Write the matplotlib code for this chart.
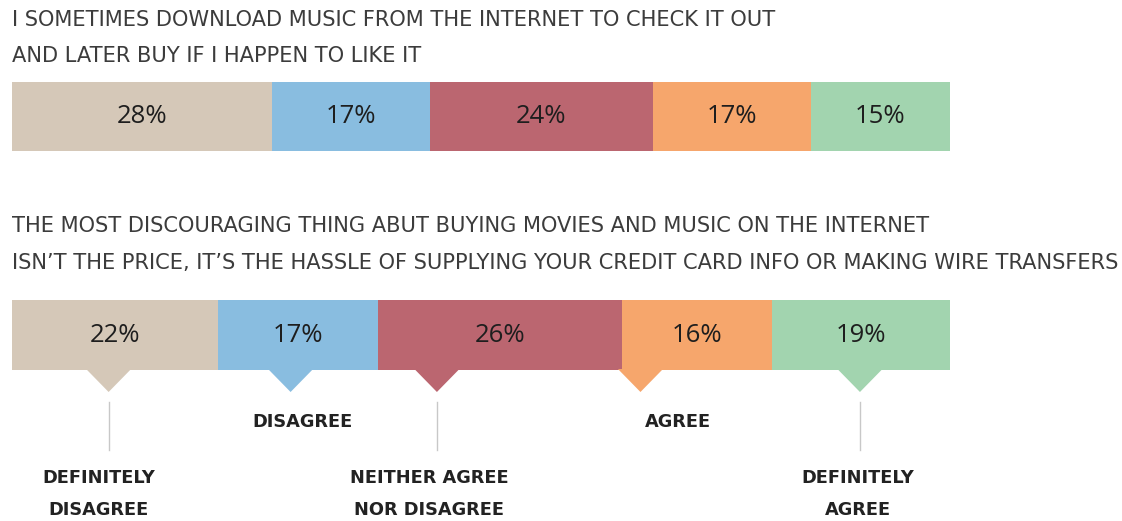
# stacked agreement bars for two survey statements

import matplotlib.pyplot as plt
import numpy as np

plt.rcParams['font.family'] = ['DejaVu Sans']

colors = ['#d5c8b8', '#89bde0', '#bb6670', '#f6a66c', '#a2d4af']
answers = ['DEFINITELY\nDISAGREE', 'DISAGREE', 'NEITHER AGREE\nNOR DISAGREE',
           'AGREE', 'DEFINITELY\nAGREE']

q1_title = ['I SOMETIMES DOWNLOAD MUSIC FROM THE INTERNET TO CHECK IT OUT',
            'AND LATER BUY IF I HAPPEN TO LIKE IT']
q1_values = [28, 17, 24, 17, 15]

q2_title = ['THE MOST DISCOURAGING THING ABUT BUYING MOVIES AND MUSIC ON THE INTERNET',
            'ISN\u2019T THE PRICE, IT\u2019S THE HASSLE OF SUPPLYING YOUR CREDIT CARD INFO OR MAKING WIRE TRANSFERS']
q2_values = [22, 17, 26, 16, 19]

# pointer and label positions along the bottom bar (percent scale)
pointer_pos = [10.3, 29.7, 45.3, 67.0, 90.4]
label_pos = [9.2, 31.0, 44.5, 71.0, 90.2]
has_stem = [True, False, True, False, True]


def stacked_bar(ax, values, y, height):
    vals = np.array(values, dtype=float)
    vals = vals / vals.sum() * 100
    left = np.concatenate([[0], np.cumsum(vals)[:-1]])
    ax.barh(y, vals, left=left, height=height, color=colors, linewidth=0)
    for l, w, v in zip(left, vals, values):
        ax.text(l + w / 2, y, '{0}%'.format(v), ha='center', va='center',
                fontsize=18.5, color='#1e1e1e', family='Open Sans')


def title(ax, lines, y0, gap):
    for i, line in enumerate(lines):
        ax.text(0, y0 + i * gap, line, ha='left', va='center',
                fontsize=15.1, color='#3c3c3c')


fig = plt.figure(figsize=(11.22, 5.21), dpi=100)
ax = fig.add_axes([0, 0, 1, 1])
ax.set_xlim(-12 / 9.38, (1122 - 12) / 9.38)
ax.set_ylim(521, 0)
ax.axis('off')

title(ax, q1_title, 20, 36)
stacked_bar(ax, q1_values, 116.5, 69)

title(ax, q2_title, 226, 37)
stacked_bar(ax, q2_values, 335, 70)

# pointers, stems and answer labels under the second bar
bar_bottom = 370
for x, lx, c, lab, stem in zip(pointer_pos, label_pos, colors, answers, has_stem):
    ax.fill([x - 2.4, x + 2.4, x], [bar_bottom - 1, bar_bottom - 1, bar_bottom + 22],
            color=c, linewidth=0)
    if stem:
        ax.plot([x, x], [402, 450], color='#c8c8c8', linewidth=1)
        ax.text(lx, 494, lab, ha='center', va='center', fontsize=12.8,
                fontweight='bold', color='#222222', linespacing=1.95)
    else:
        ax.text(lx, 422, lab, ha='center', va='center', fontsize=12.8,
                fontweight='bold', color='#222222')

fig.savefig('out.png', dpi=100)
